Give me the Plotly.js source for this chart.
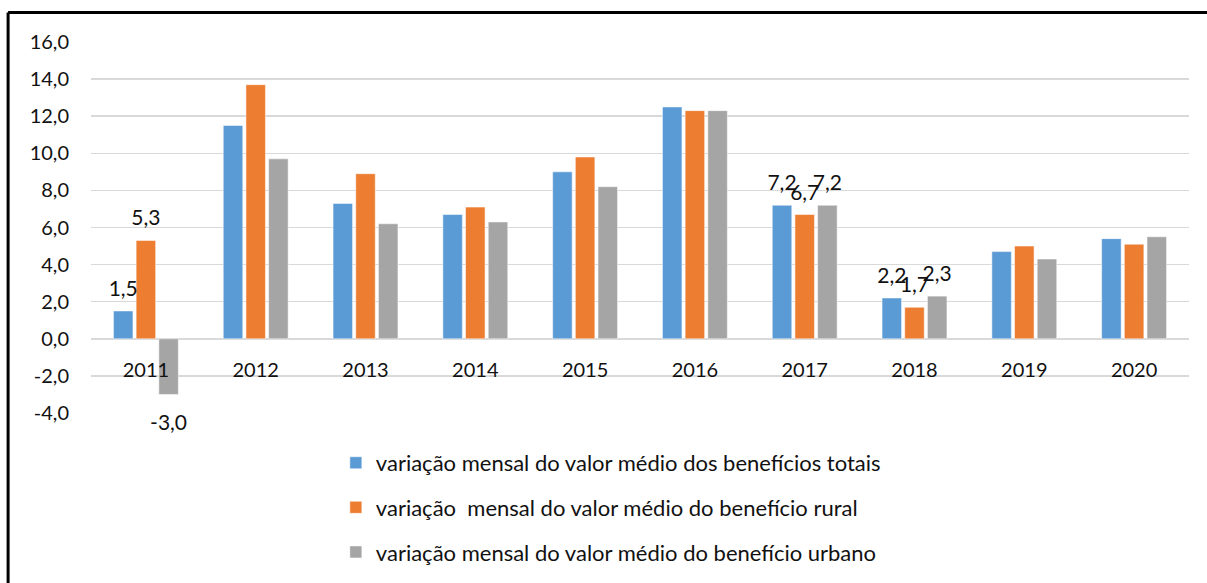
<!DOCTYPE html>
<html>
<head>
<meta charset="utf-8">
<script src="https://cdn.plot.ly/plotly-3.0.1.min.js"></script>
<style>
html,body{margin:0;padding:0;background:#fff;}
#chart{width:1207px;height:583px;}
</style>
</head>
<body>
<div id="chart"></div>
<script>
const years = ['2011','2012','2013','2014','2015','2016','2017','2018','2019','2020'];
const totais = [1.5, 11.5, 7.3, 6.7, 9.0, 12.5, 7.2, 2.2, 4.7, 5.4];
const rural  = [5.3, 13.7, 8.9, 7.1, 9.8, 12.3, 6.7, 1.7, 5.0, 5.1];
const urbano = [-3.0, 9.7, 6.2, 6.3, 8.2, 12.3, 7.2, 2.3, 4.3, 5.5];
const labeledYears = ['2011','2017','2018'];
const seriesNames = [
  'variação mensal do valor médio dos benefícios totais',
  'variação  mensal do valor médio do benefício rural',
  'variação mensal do valor médio do benefício urbano'
];
const colors = ['#5B9BD5','#ED7D31','#A5A5A5'];
const yTicks = [-4,-2,0,2,4,6,8,10,12,14,16];

const fmt = v => v.toFixed(1).replace('.', ',');
const FONT = 'Lato, "Open Sans", sans-serif';
const series = [totais, rural, urbano];

const barTraces = series.map((vals, i) => ({
  type: 'bar',
  x: years,
  y: vals,
  name: seriesNames[i],
  legendgroup: 'g' + i,
  offsetgroup: 'o' + i,
  marker: {color: colors[i], line: {color: 'rgba(255,255,255,0.5)', width: 1}},
  hoverinfo: 'x+y'
}));

const labelTraces = series.map((vals, i) => ({
  type: 'scatter',
  mode: 'markers+text',
  x: years,
  y: vals,
  offsetgroup: 'o' + i,
  showlegend: false,
  legendgroup: 'g' + i,
  marker: {
    size: vals.map(v => v < 0 ? 30 : 14),
    color: 'rgba(0,0,0,0)',
    opacity: 0,
    line: {width: 0, color: 'rgba(0,0,0,0)'}
  },
  text: vals.map((v, j) => labeledYears.includes(years[j]) ? fmt(v) : ''),
  textposition: vals.map(v => v < 0 ? 'bottom center' : 'top center'),
  textfont: {family: FONT, size: 21, color: '#111'},
  cliponaxis: false,
  hoverinfo: 'skip'
}));

const layout = {
  width: 1207,
  height: 583,
  margin: {l: 91, r: 18, t: 42, b: 170, autoexpand: false},
  paper_bgcolor: '#fff',
  plot_bgcolor: '#fff',
  separators: ',.',
  barmode: 'group',
  bargap: 0.38,
  bargroupgap: 0.14,
  scattermode: 'group',
  scattergap: 0.38,
  font: {family: FONT, size: 20, color: '#111'},
  xaxis: {
    type: 'category',
    anchor: 'free',
    position: 0.2,
    showline: false,
    showgrid: false,
    ticks: '',
    ticklabelstandoff: 17,
    tickfont: {family: FONT, size: 20, color: '#111'}
  },
  yaxis: {
    range: [-4, 16],
    tickvals: yTicks,
    ticktext: yTicks.map(fmt),
    showgrid: true,
    gridcolor: '#D9D9D9',
    gridwidth: 1.5,
    zeroline: true,
    zerolinecolor: '#D9D9D9',
    zerolinewidth: 1.5,
    showline: false,
    ticks: '',
    ticklabelstandoff: 21,
    tickfont: {family: FONT, size: 20, color: '#111'}
  },
  showlegend: true,
  legend: {
    x: 0.223,
    xanchor: 'left',
    y: -0.078,
    yanchor: 'top',
    orientation: 'v',
    traceorder: 'grouped',
    tracegroupgap: 13,
    font: {family: FONT, size: 22, color: '#111'},
    bgcolor: 'rgba(0,0,0,0)'
  },
  shapes: [
    {type: 'line', xref: 'paper', yref: 'paper', x0: -0.0755, x1: 1.1, y0: 1.0795, y1: 1.0795,
     line: {color: '#000', width: 3}},
    {type: 'line', xref: 'paper', yref: 'paper', x0: -0.0755, x1: -0.0755, y0: 1.0795, y1: -0.6,
     line: {color: '#000', width: 3}}
  ]
};

Plotly.newPlot('chart', barTraces.concat(labelTraces), layout, {displayModeBar: false, staticPlot: true});
</script>
</body>
</html>
